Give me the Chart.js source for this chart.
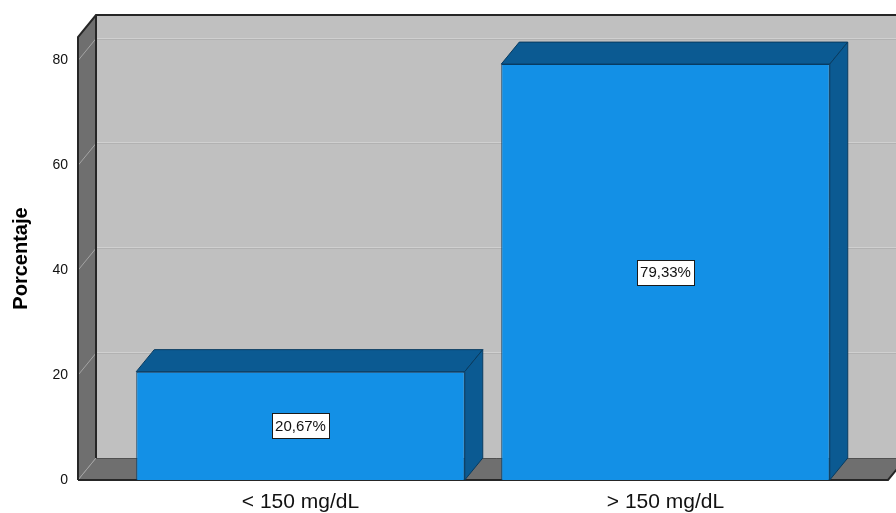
<!DOCTYPE html>
<html>
<head>
<meta charset="utf-8">
<script src="https://cdn.jsdelivr.net/npm/chart.js@4/dist/chart.umd.min.js"></script>
<style>
  html, body { margin: 0; padding: 0; background: #ffffff; }
  #wrap { width: 896px; height: 513px; }
</style>
</head>
<body>
<div id="wrap"><canvas id="chart" width="896" height="513"></canvas></div>
<script>
// Categories and percentages
const categories = ['< 150 mg/dL', '> 150 mg/dL'];
const percentages = [20.67, 79.33];
const valueLabels = ['20,67%', '79,33%'];
const yTicks = [0, 20, 40, 60, 80];

const FONT = "'Liberation Sans', Arial, sans-serif";
const DEPTH_X = 18;   // horizontal shift of the back plane
const DEPTH_Y = 22;   // vertical shift of the back plane
const WALL_LEFT_GAP = 40; // distance from plot left edge to front axis line
const FLOOR_RIGHT = 888;

// Draws the box: back wall, side wall, floor and gridlines
const box3d = {
  id: 'box3d',
  beforeDatasetsDraw(chart) {
    const { ctx, chartArea, scales: { y } } = chart;
    const fx = chartArea.left - WALL_LEFT_GAP;    // front axis x
    const bx = fx + DEPTH_X;                      // back wall left x
    const yTop = y.getPixelForValue(y.max);
    const y0 = y.getPixelForValue(0);
    const rightEdge = FLOOR_RIGHT + DEPTH_X;
    ctx.save();

    // back wall
    ctx.fillStyle = '#c0c0c0';
    ctx.fillRect(bx, yTop - DEPTH_Y, rightEdge - bx, y0 - yTop);

    // back wall gridlines
    yTicks.forEach(v => {
      if (v === 0) return;
      const py = Math.round(y.getPixelForValue(v) - DEPTH_Y);
      ctx.fillStyle = '#d0d0d0';
      ctx.fillRect(bx, py - 1, rightEdge - bx, 1);
      ctx.fillStyle = '#b2b2b2';
      ctx.fillRect(bx, py, rightEdge - bx, 1);
    });

    // side wall
    ctx.fillStyle = '#6f6f6f';
    ctx.beginPath();
    ctx.moveTo(fx, yTop);
    ctx.lineTo(bx, yTop - DEPTH_Y);
    ctx.lineTo(bx, y0 - DEPTH_Y);
    ctx.lineTo(fx, y0);
    ctx.closePath();
    ctx.fill();

    // floor
    ctx.beginPath();
    ctx.moveTo(fx, y0);
    ctx.lineTo(bx, y0 - DEPTH_Y);
    ctx.lineTo(rightEdge, y0 - DEPTH_Y);
    ctx.lineTo(FLOOR_RIGHT, y0);
    ctx.closePath();
    ctx.fill();

    // side wall gridlines
    ctx.strokeStyle = '#a4a4a4';
    ctx.lineWidth = 1;
    yTicks.forEach(v => {
      const py = y.getPixelForValue(v);
      ctx.beginPath();
      ctx.moveTo(fx, py);
      ctx.lineTo(bx, py - DEPTH_Y);
      ctx.stroke();
    });

    // floor back edge
    ctx.strokeStyle = '#505050';
    ctx.beginPath();
    ctx.moveTo(bx, y0 - DEPTH_Y + 0.5);
    ctx.lineTo(rightEdge, y0 - DEPTH_Y + 0.5);
    ctx.stroke();

    // dark outline edges
    ctx.strokeStyle = '#262626';
    ctx.lineWidth = 2;
    ctx.beginPath();
    ctx.moveTo(fx, y0);
    ctx.lineTo(fx, yTop);
    ctx.lineTo(bx, yTop - DEPTH_Y);
    ctx.lineTo(rightEdge, yTop - DEPTH_Y);
    ctx.moveTo(bx, yTop - DEPTH_Y);
    ctx.lineTo(bx, y0 - DEPTH_Y);
    ctx.moveTo(fx, y0);
    ctx.lineTo(FLOOR_RIGHT, y0);
    ctx.lineTo(rightEdge, y0 - DEPTH_Y);
    ctx.stroke();
    ctx.restore();
  },
  afterDatasetsDraw(chart) {
    const { ctx } = chart;
    const meta = chart.getDatasetMeta(0);
    ctx.save();
    meta.data.forEach((bar, i) => {
      const { x, y: top, base, width } = bar.getProps(['x', 'y', 'base', 'width'], true);
      const l = x - width / 2, r = x + width / 2;
      ctx.fillStyle = '#0b5a92';
      ctx.strokeStyle = '#083b60';
      ctx.lineWidth = 1;
      // top face
      ctx.beginPath();
      ctx.moveTo(l, top);
      ctx.lineTo(l + DEPTH_X, top - DEPTH_Y);
      ctx.lineTo(r + DEPTH_X, top - DEPTH_Y);
      ctx.lineTo(r, top);
      ctx.closePath();
      ctx.fill();
      ctx.stroke();
      // side face
      ctx.beginPath();
      ctx.moveTo(r, top);
      ctx.lineTo(r + DEPTH_X, top - DEPTH_Y);
      ctx.lineTo(r + DEPTH_X, base - DEPTH_Y);
      ctx.lineTo(r, base);
      ctx.closePath();
      ctx.fill();
      ctx.stroke();

      // value label box
      const yMid = chart.scales.y.getPixelForValue(percentages[i] / 2);
      ctx.font = '15px ' + FONT;
      const text = valueLabels[i];
      const tw = ctx.measureText(text).width;
      const bw = Math.round(tw + 6), bh = 25;
      const bxl = Math.round(x - bw / 2) + 0.5, byt = Math.round(yMid - bh / 2) + 0.5;
      ctx.fillStyle = '#ffffff';
      ctx.fillRect(bxl, byt, bw, bh);
      ctx.strokeStyle = '#1a1a1a';
      ctx.strokeRect(bxl, byt, bw, bh);
      ctx.fillStyle = '#111111';
      ctx.textAlign = 'center';
      ctx.textBaseline = 'middle';
      ctx.fillText(text, x, yMid + 1);
    });
    ctx.restore();
  }
};

new Chart(document.getElementById('chart'), {
  type: 'bar',
  data: {
    labels: categories,
    datasets: [{
      data: percentages,
      backgroundColor: '#1390e6',
      borderColor: '#0b3d63',
      borderWidth: 1,
      categoryPercentage: 1.0,
      barPercentage: 0.9
    }]
  },
  options: {
    responsive: false,
    animation: false,
    devicePixelRatio: 1,
    layout: { padding: { top: 37, right: 48, bottom: 0, left: 0 } },
    plugins: { legend: { display: false }, tooltip: { enabled: false } },
    scales: {
      x: {
        type: 'category',
        grid: { display: false, drawTicks: false },
        border: { display: false },
        ticks: {
          font: { family: FONT, size: 21 },
          color: '#111111',
          padding: 10,
          maxRotation: 0,
          autoSkip: false
        },
        afterFit(scale) {
          scale.height = 33;
          scale.paddingLeft = 0;
          scale.paddingRight = 0;
        }
      },
      y: {
        min: 0,
        max: 84.5,
        grid: { display: false, drawTicks: false },
        border: { display: false },
        ticks: {
          stepSize: 20,
          includeBounds: false,
          font: { family: FONT, size: 14 },
          color: '#111111',
          padding: 50
        },
        title: {
          display: true,
          text: 'Porcentaje',
          font: { family: FONT, size: 20, weight: 'bold' },
          color: '#000000',
          padding: { top: 9, bottom: 0 }
        },
        afterFit(scale) {
          scale.width = 118;
          scale.paddingTop = 0;
          scale.paddingBottom = 0;
        }
      }
    }
  },
  plugins: [box3d]
});
</script>
</body>
</html>
